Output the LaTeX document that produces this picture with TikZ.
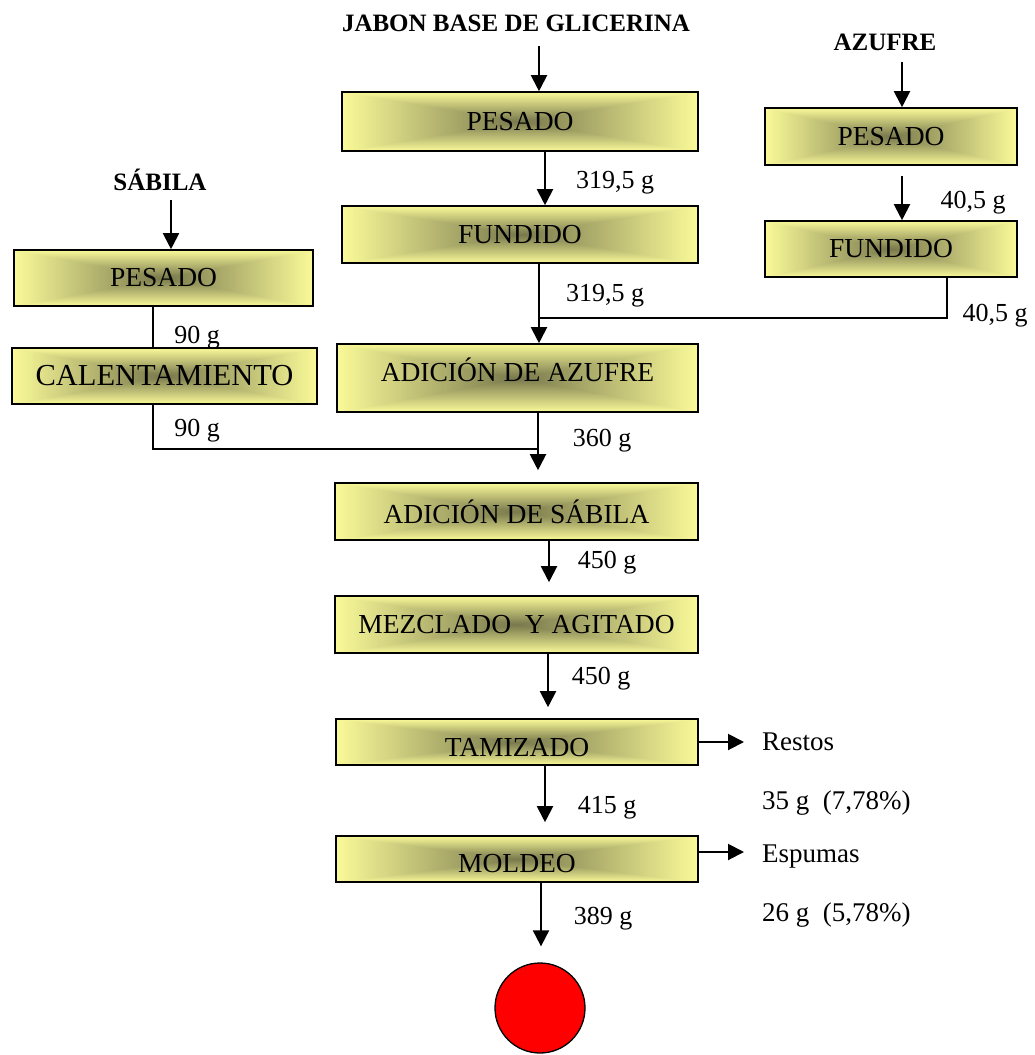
\documentclass[tikz,border=0pt]{standalone}
\usepackage{fontspec}
\setmainfont{Liberation Serif}
\usetikzlibrary{arrows.meta,calc}
\pgfdeclarefunctionalshading{boxshade}{\pgfpoint{-50bp}{-50bp}}{\pgfpoint{50bp}{50bp}}{}{
abs exch abs 2 copy lt {exch} if pop 25 div 1 exch sub dup 0 lt {pop 0} if
dup dup 0.51 mul 0.98 exch sub exch 0.51 mul 0.98 exch sub 3 -1 roll 0.30 mul 0.60 exch sub
}
\tikzset{
  proc/.style={rectangle, draw=black, line width=1.6pt, shade, shading=boxshade,
    font=\fontsize{27.5}{30}\selectfont, inner sep=0pt},
  arr/.style={line width=2pt, -{Triangle[length=16pt,width=16pt]}},
  ln/.style={line width=1.3pt},
  lab/.style={font=\fontsize{26}{29}\selectfont, inner sep=0pt, text depth=0pt},
  ttl/.style={font=\bfseries\fontsize{25}{28}\selectfont, inner sep=0pt},
  side/.style={font=\fontsize{27}{30}\selectfont, inner sep=0pt, anchor=west, text depth=0pt},
}
\begin{document}
\begin{tikzpicture}[x=1pt,y=-1pt]
\useasboundingbox (0,0) rectangle (1034,1055);
% titles
\node[ttl] (jab) at (516,23) {JABON BASE DE GLICERINA};
\node[ttl] (azu) at (885,42) {AZUFRE};
\node[ttl] (sabt) at (160,180) {SÁBILA};
% boxes
\node[proc, minimum width=356pt, minimum height=59pt] (p1) at (520,121.5) {PESADO};
\node[proc, minimum width=356pt, minimum height=57pt] (f1) at (520,234.5) {FUNDIDO};
\node[proc, minimum width=361pt, minimum height=68pt, text height=18pt, text depth=12pt] (az) at (517.5,378) {ADICIÓN DE AZUFRE};
\node[proc, minimum width=252pt, minimum height=57pt] (p2) at (891,136.5) {PESADO};
\node[proc, minimum width=252pt, minimum height=56pt] (f2) at (891,249) {FUNDIDO};
\node[proc, minimum width=299pt, minimum height=56pt] (p3) at (163.5,278) {PESADO};
\node[proc, minimum width=305pt, minimum height=56pt, font=\fontsize{30.5}{33}\selectfont] (c3) at (164.5,376) {CALENTAMIENTO};
\node[proc, minimum width=363pt, minimum height=57pt] (sab) at (516.5,511.5) {ADICIÓN DE SÁBILA};
\node[proc, minimum width=363pt, minimum height=57pt] (mez) at (516.5,624.5) {MEZCLADO\ \ Y AGITADO};
\node[proc, minimum width=362pt, minimum height=46pt, text height=28pt, text depth=0pt] (tam) at (517,742) {TAMIZADO};
\node[proc, minimum width=362pt, minimum height=46pt, text height=26pt, text depth=0pt] (mol) at (517,859) {MOLDEO};
\node[circle, draw=black, line width=1.3pt, fill=red, minimum size=90pt, inner sep=0pt] (fin) at (540,1008) {};
% side texts
\node[side] (restos) at (762,742) {Restos};
\node[side] (restosv) at (762,800) {35 g\ \ (7,78\%)};
\node[side] (esp) at (762,854) {Espumas};
\node[side] (espv) at (762,912) {26 g\ \ (5,78\%)};
% labels
\node[lab] (l1) at (615,180) {319,5 g};
\node[lab] (l2) at (605,293) {319,5 g};
\node[lab] (l3) at (973,200) {40,5 g};
\node[lab] (l4) at (995,313) {40,5 g};
\node[lab] (l5) at (197,335) {90 g};
\node[lab] (l6) at (197,428) {90 g};
\node[lab] (l7) at (602,438) {360 g};
\node[lab] (l8) at (607,560) {450 g};
\node[lab] (l9) at (601,676) {450 g};
\node[lab] (l10) at (607,805) {415 g};
\node[lab] (l11) at (603,916) {389 g};
% helper coordinates
\coordinate (jin) at (539,46);
\coordinate (ain) at (902,62);
\coordinate (sin) at (171,200);
\coordinate (x539) at (539,0);
\coordinate (x545) at (545,0);
\coordinate (x947) at (947,0);
\coordinate (x902) at (902,0);
\coordinate (x171) at (171,0);
\coordinate (x153) at (153,0);
\coordinate (x538) at (538,0);
\coordinate (x549) at (549,0);
\coordinate (x548) at (548,0);
\coordinate (x541) at (541,0);
\coordinate (j1) at (539,318);
\coordinate (j2) at (538,449);
\coordinate (ra) at (744,742);
\coordinate (ea) at (744,852);
% connectors
\draw[arr] (jin) -- (p1.north -| jin);
\draw[arr] (p1.south -| x545) -- (f1.north -| x545);
\draw[arr] (f1.south -| x539) -- (az.north -| x539);
\draw[ln] (f2.south -| x947) |- (j1);
\draw[arr] (ain) -- (p2.north -| ain);
\draw[arr] ([yshift=-10pt]p2.south -| x902) -- (f2.north -| x902);
\draw[arr] (sin) -- (p3.north -| sin);
\draw[ln] (p3.south -| x153) -- (c3.north -| x153);
\draw[ln] (c3.south -| x153) |- (j2);
\draw[arr] (az.south -| x538) -- ([yshift=12pt]sab.north -| x538);
\draw[arr] (sab.south -| x549) -- ([yshift=13pt]mez.north -| x549);
\draw[arr] (mez.south -| x548) -- ([yshift=11pt]tam.north -| x548);
\draw[arr] (tam.south -| x545) -- ([yshift=13pt]mol.north -| x545);
\draw[arr] (mol.south -| x541) -- ([yshift=16pt]fin.north -| x541);
\draw[arr] (ra -| tam.east) -- (ra);
\draw[arr] (ea -| mol.east) -- (ea);
\end{tikzpicture}
\end{document}
